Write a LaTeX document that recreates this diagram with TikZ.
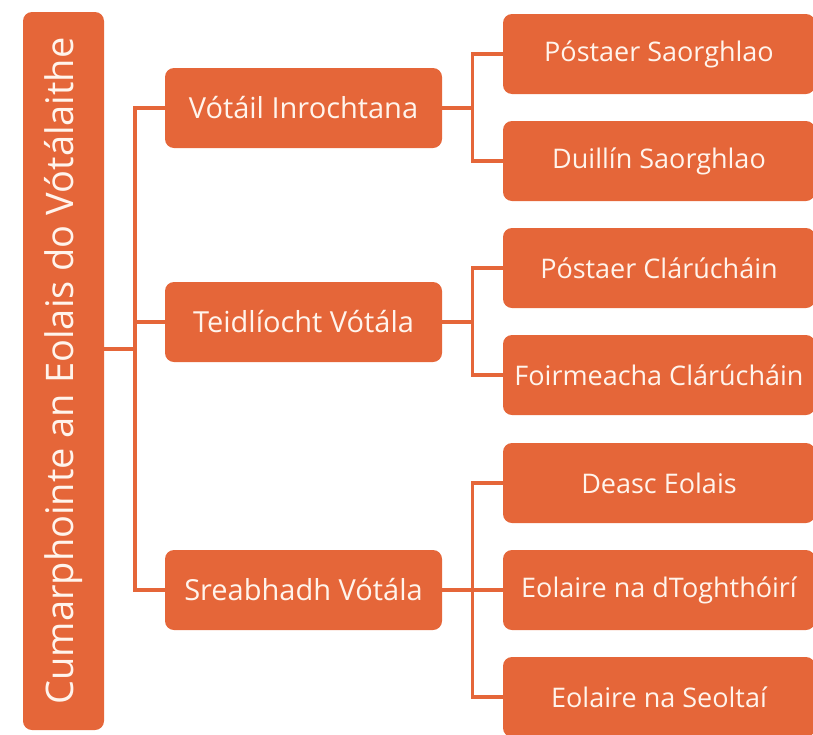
\documentclass[tikz,border=0pt]{standalone}
\usepackage{fontspec}
\setmainfont{Open Sans}
\usetikzlibrary{calc}
\definecolor{voteorange}{HTML}{E56639}
\definecolor{votecream}{HTML}{FFF4EC}

\begin{document}
\begin{tikzpicture}[x=1pt,y=-1pt,
    BoxStyle/.style={fill=voteorange,text=votecream,rounded corners=9pt,
      inner sep=0pt,minimum height=80pt,font=\fontsize{29}{32}\selectfont},
    MidStyle/.style={BoxStyle,minimum width=277pt},
    LeafStyle/.style={BoxStyle,minimum width=312pt,font=\fontsize{27}{30}\selectfont},
    LinkStyle/.style={draw=voteorange,line width=3.4pt}
  ]
  \useasboundingbox (0,0) rectangle (813,734);
  %\draw[gray] (0,0) rectangle (813,734);
  \node[BoxStyle,rotate=90,minimum width=718pt,minimum height=81pt,
    font=\fontsize{38}{42}\selectfont] (root) at (63.5,371) {Cumarphointe an Eolais do Vótálaithe};
  \node[MidStyle] (m1) at (303.5,108) {Vótáil Inrochtana};
  \node[MidStyle] (m2) at (303.5,322) {Teidlíocht Vótála};
  \node[MidStyle] (m3) at (303.5,590) {Sreabhadh Vótála};
  \foreach \nm/\yy/\txt in {r1/54/Póstaer Saorghlao,r2/161/Duillín Saorghlao,
      r3/268/Póstaer Clárúcháin,r4/375/Foirmeacha Clárúcháin,
      r5/483/Deasc Eolais,r6/590/Eolaire na dToghthóirí,r7/697/Eolaire na Seoltaí}
    \node[LeafStyle] (\nm) at (659,\yy) {\txt};
  % left bracket
  \draw[LinkStyle] (m1.west) -- ++(-30,0) coordinate (lt) |- (m3.west);
  \draw[LinkStyle] (m2.west) -- ++(-30,0);
  \coordinate (lj) at ($(lt)!0.5!(lt|-m3.west)$);
  \draw[LinkStyle] (root.south |- lj) -- (lj);
  % right brackets
  \draw[LinkStyle] (m1.east) -- ++(30,0) coordinate (b1);
  \draw[LinkStyle] (r1.west) -| (b1) |- (r2.west);
  \draw[LinkStyle] (m2.east) -- ++(30,0) coordinate (b2);
  \draw[LinkStyle] (r3.west) -| (b2) |- (r4.west);
  \draw[LinkStyle] (m3.east) -- ++(30,0) coordinate (b3);
  \draw[LinkStyle] (r5.west) -| (b3) |- (r7.west);
  \draw[LinkStyle] (b3) -- (r6.west);
\end{tikzpicture}
\end{document}
